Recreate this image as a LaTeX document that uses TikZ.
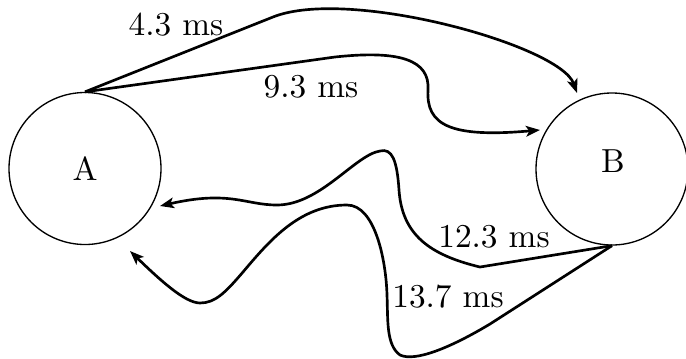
\documentclass[tikz,border=0pt]{standalone}
\usetikzlibrary{arrows.meta}
\begin{document}
\begin{tikzpicture}[x=0.3pt,y=-0.3pt,
  station/.style={draw,circle,line width=0.4pt,minimum size=45.6pt,inner sep=0pt},
  delay/.style={line width=0.8pt,-{Stealth[length=4.2pt,width=3.2pt,inset=1pt]}},
  tlabel/.style={anchor=base,inner sep=0pt,font=\fontsize{10}{12}\selectfont}]
\useasboundingbox (0,0) rectangle (686,358);

% the two stations
\node[station] (A) at (85,168.5) {};
\node[station] (B) at (612,169) {};
\node[tlabel] (Alab) at (85,180) {A};
\node[tlabel] (Blab) at (613,172) {B};

% arrival points next to the stations
\coordinate (b1) at (577,93);
\coordinate (b2) at (540,130);
\coordinate (a1) at (160,206);
\coordinate (a2) at (130,251);

% A -> B
\draw[delay] (A.north) -- (273,17)
  .. controls (348,-13) and (560,45) .. (b1);
\draw[delay] (A.north) -- (335,57)
  .. controls (400,50) and (430,60) .. (428,90)
  .. controls (426,125) and (450,138) .. (b2);

% B -> A
\draw[delay] (B.south) -- (480,267)
  .. controls (430,255) and (402,235) .. (399,190)
  .. controls (397,160) and (392,148) .. (380,151)
  .. controls (355,155) and (320,205) .. (277,205)
  .. controls (245,205) and (230,190) .. (a1);
\draw[delay] (B.south) -- (490,324)
  .. controls (450,348) and (415,362) .. (400,355)
  .. controls (386,345) and (388,320) .. (387,295)
  .. controls (386,260) and (375,205) .. (347,205)
  .. controls (300,205) and (270,240) .. (243,272)
  .. controls (225,293) and (215,303) .. (200,303)
  .. controls (185,303) and (160,280) .. (a2);

% delay labels
\node[tlabel] (t1) at (176,35) {4.3 ms};
\node[tlabel] (t2) at (311,97) {9.3 ms};
\node[tlabel] (t3) at (494,247) {12.3 ms};
\node[tlabel] (t4) at (448,307) {13.7 ms};
\end{tikzpicture}
\end{document}
